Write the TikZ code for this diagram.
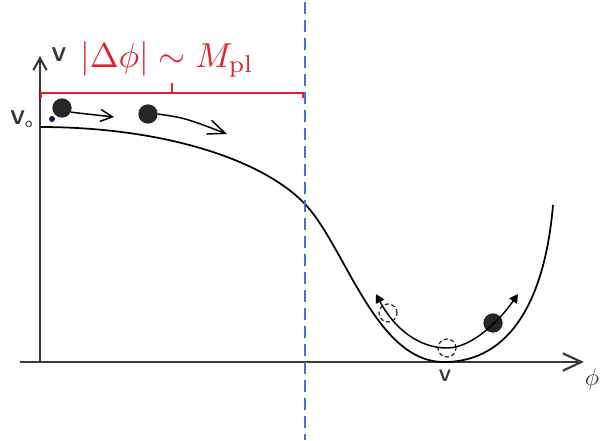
\documentclass[tikz,border=0pt]{standalone}
\usetikzlibrary{arrows.meta}
\definecolor{redb}{RGB}{222,35,45}
\definecolor{blued}{RGB}{70,115,195}
\definecolor{axisc}{RGB}{55,55,55}
\definecolor{dotc}{RGB}{25,25,70}
\begin{document}
\begin{tikzpicture}[x=0.75pt,y=-0.75pt,
  axis/.style={line width=1.6pt, draw=axisc},
  curve/.style={line width=1.3pt, draw=black},
  ball/.style={circle, fill=black!85, minimum size=14.5pt, inner sep=0pt},
  dball/.style={circle, draw=black!85, dash pattern=on 3pt off 2pt, line width=0.9pt, minimum size=13.5pt, inner sep=0pt},
  barb/.style={line width=1.1pt, -{Straight Barb[length=9pt,width=9pt]}},
  lab/.style={font=\sffamily\bfseries, inner sep=0pt, text=axisc}]
\useasboundingbox (0,0) rectangle (604,440);

% axes
\coordinate (yb) at (40,362);
\coordinate (yt) at (40,56);
\coordinate (xl) at (20,362);
\coordinate (xr) at (584,362);
\draw[axis,-{Straight Barb[length=9pt,width=10pt]}] (yb) -- (yt);
\draw[axis,-{Straight Barb[length=14pt,width=13pt]}] (xl) -- (xr);

% labels
\node[lab, scale=1.5] (lV) at (59,55) {V};
\node[lab, scale=1.5] (lV0) at (22,119) {V\textsubscript{\mdseries o}};
\node[lab, scale=1.25] (lv) at (445,376) {V};
\node[lab, font=\normalfont, scale=1.8] (lphi) at (592,379) {$\phi$};

% potential curve
\draw[curve] (40,127) .. controls (160,127) and (260,158) .. (304,203)
  .. controls (345,245) and (375,362) .. (444,362)
  .. controls (510,362) and (545,300) .. (553,205);

% blue dashed line
\coordinate (dt) at (305,2);
\coordinate (db) at (305,440);
\draw[blued, line width=1.2pt, dash pattern=on 9pt off 4.5pt] (dt) -- (db);

% red bracket
\coordinate (rl) at (41,98);
\coordinate (rr) at (303,98);
\coordinate (rm) at (172,93);
\coordinate (rmt) at (172,83);
\draw[redb, line width=1.1pt] (rl) -- ++(0,-5) -| (rr);
\draw[redb, line width=1.1pt] (rm) -- (rmt);
\node[redb, anchor=base, scale=2.6, inner sep=0pt] (dphi) at (167,67) {$|\Delta\phi| \sim M_{\rm pl}$};

% top balls and arrows
\node[circle, fill=dotc, minimum size=4.5pt, inner sep=0pt] (bd) at (52,119) {};
\node[ball] (b1) at (62,108) {};
\node[ball] (b2) at (148,114) {};
\coordinate (a1) at (114,117);
\coordinate (a2) at (227,134);
\draw[barb] (b1.-25) -- (a1);
\draw[line width=1.1pt, -{Straight Barb[length=13pt,width=11pt]}] (b2.east) .. controls (185,118) .. (a2);

% bottom trajectory
\node[dball] (d1) at (388,313) {};
\node[dball] (d2) at (447,348) {};
\node[ball] (b3) at (493,323) {};
\coordinate (t1) at (376,294);
\coordinate (t2) at (518,294);
\draw[line width=1.1pt, {Triangle[length=6.5pt,width=7pt]}-{Triangle[length=6.5pt,width=7pt]}]
  (t1) .. controls (395,330) and (420,348) .. (447,348)
  .. controls (472,348) and (500,320) .. (t2);
\end{tikzpicture}
\end{document}
